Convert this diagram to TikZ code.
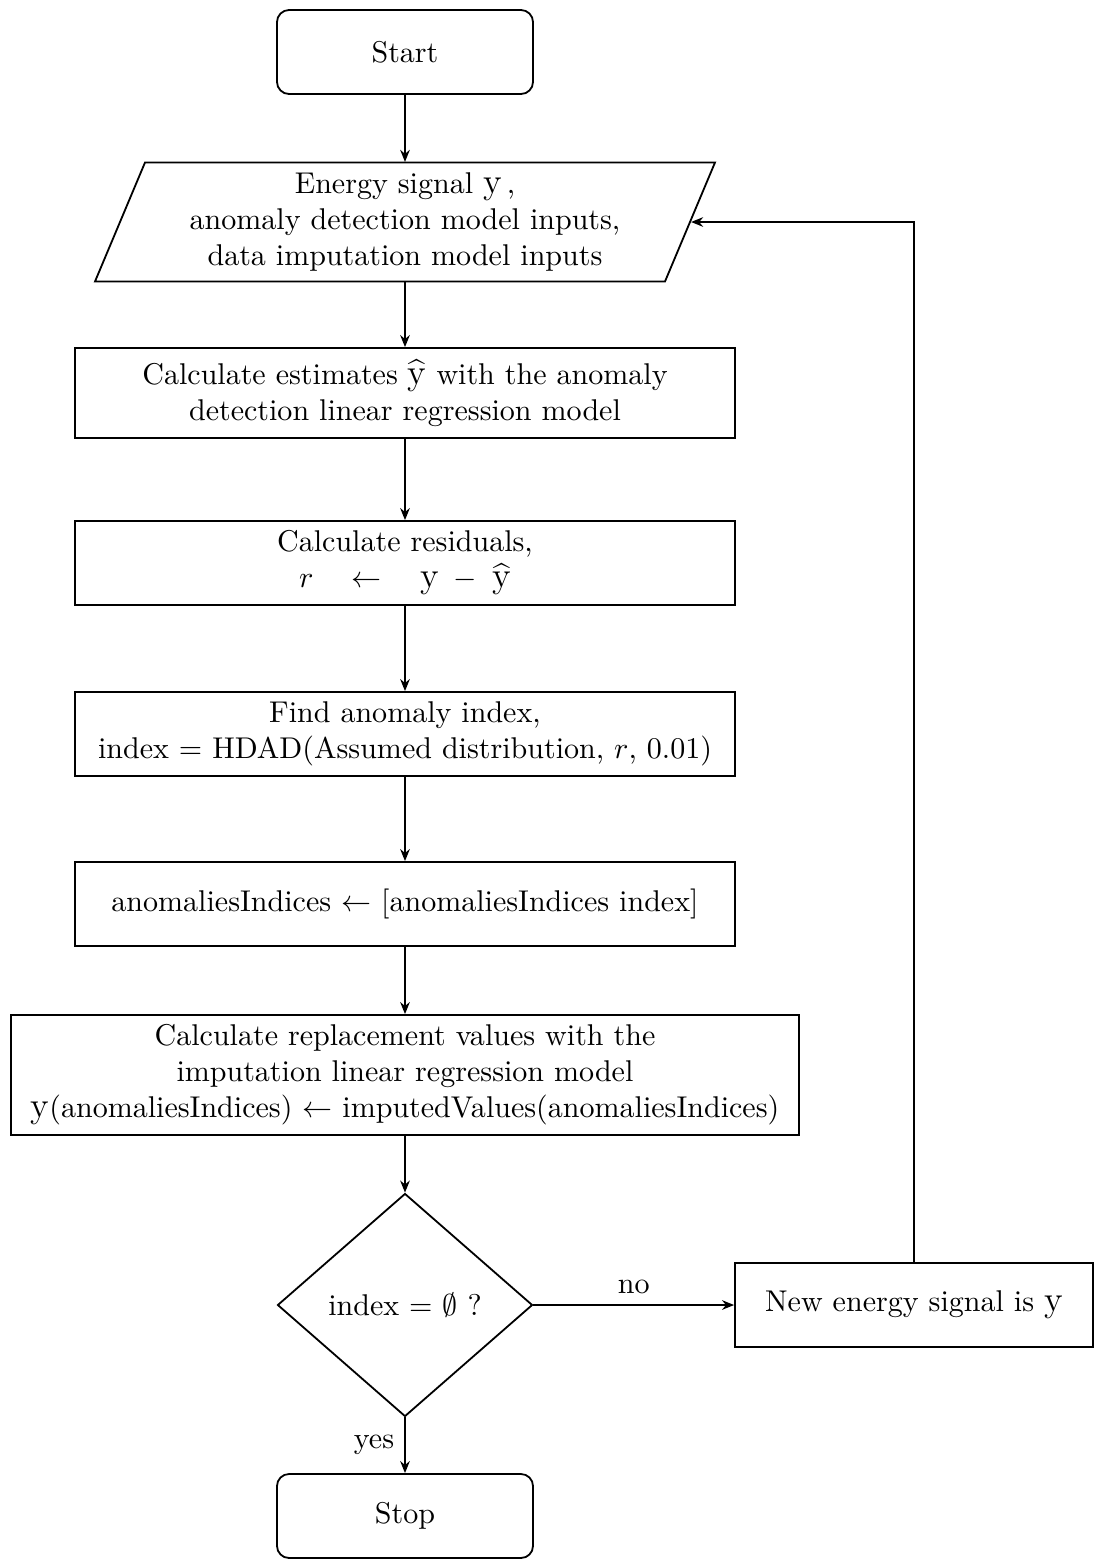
\documentclass[tikz,border=0pt]{standalone}
\usetikzlibrary{shapes.geometric,arrows.meta}
\newcommand\sigy{\mbox{\large y}}
\newcommand\sigyhat{$\widehat{\mbox{\large y}}$}
\begin{document}
\begin{tikzpicture}[x=0.333pt,y=-0.333pt,
  line/.style={line width=0.6pt},
  box/.style={draw, line width=0.6pt, rectangle, align=center, minimum height={84*0.333pt}, inner sep=2pt},
  term/.style={draw, line width=0.6pt, rounded corners=4pt, minimum width={256*0.333pt}, minimum height={84*0.333pt}},
  arr/.style={-{Stealth[length=4pt,width=3.2pt]}, line width=0.6pt}]
\useasboundingbox (0,0) rectangle (1094,1559);
\node[term] (start) at (405,52) {Start};
\node[minimum width={571*0.333pt}, minimum height={119*0.333pt}, align=center, inner sep=0pt] (input) at (405,222)
  {Energy signal \sigy\,,\\ anomaly detection model inputs,\\ data imputation model inputs};
\draw[line] ([shift={(-260,-59.5)}]input.center) -- ([shift={(310,-59.5)}]input.center)
  -- ([shift={(260,59.5)}]input.center) -- ([shift={(-310,59.5)}]input.center) -- cycle;
\node[box, minimum width={660*0.333pt}, minimum height={90*0.333pt}] (est) at (405,393)
  {Calculate estimates \sigyhat{} with the anomaly\\ detection linear regression model};
\node[box, minimum width={660*0.333pt}] (res) at (405,563)
  {Calculate residuals,\\ $r\quad\leftarrow\quad\mbox{\large y}\;-\;\widehat{\mbox{\large y}}$};
\node[box, minimum width={660*0.333pt}] (find) at (405,734)
  {Find anomaly index,\\ index = HDAD(Assumed distribution, $r$, 0.01)};
\node[box, minimum width={660*0.333pt}] (upd) at (405,904)
  {anomaliesIndices $\leftarrow$ [anomaliesIndices index]};
\node[box, minimum width={788*0.333pt}, minimum height={120*0.333pt}] (imp) at (405,1075)
  {Calculate replacement values with the\\ imputation linear regression model\\
   \sigy(anomaliesIndices) $\leftarrow$ imputedValues(anomaliesIndices)};
\node[draw, line width=0.6pt, diamond, minimum width={255*0.333pt}, minimum height={223*0.333pt}, inner sep=0pt, aspect=1.14] (dec) at (405,1305)
  {index = $\emptyset$ ?};
\node[box, minimum width={358*0.333pt}] (new) at (914,1305) {New energy signal is \sigy};
\node[term] (stop) at (405,1516) {Stop};
\draw[arr] (start) -- (input.north);
\draw[arr] (input.south) -- (est);
\draw[arr] (est) -- (res);
\draw[arr] (res) -- (find);
\draw[arr] (find) -- (upd);
\draw[arr] (upd) -- (imp);
\draw[arr] (imp) -- (dec);
\draw[arr] (dec.east) -- node[above]{no} (new.west);
\draw[arr] (dec.south) -- node[left]{yes} (stop.north);
\draw[arr] (new.north) |- (input.east);
\end{tikzpicture}
\end{document}
